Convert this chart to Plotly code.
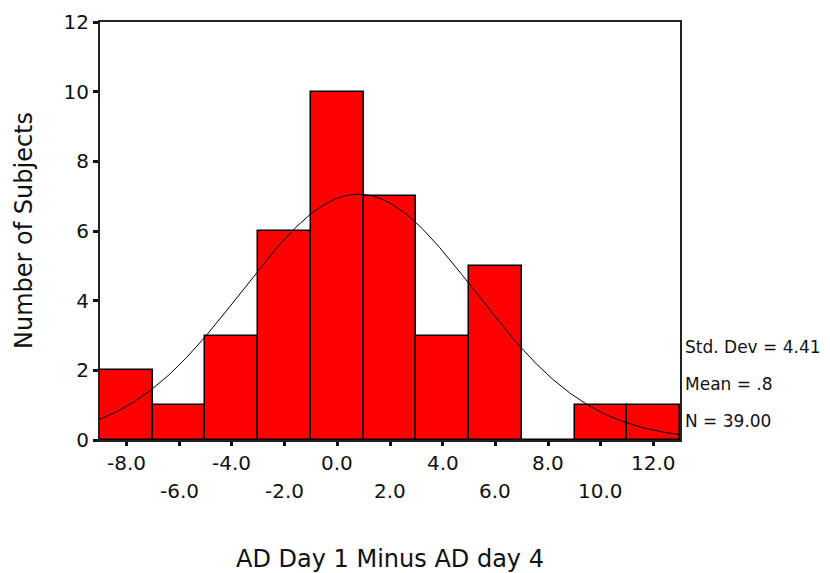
import numpy as np
import plotly.graph_objects as go

bin_centers = [-8, -6, -4, -2, 0, 2, 4, 6, 8, 10, 12]
counts = [2, 1, 3, 6, 10, 7, 3, 5, 0, 1, 1]
bin_width = 2
tick_labels = ["-8.0", "-6.0", "-4.0", "-2.0", "0.0", "2.0", "4.0", "6.0", "8.0", "10.0", "12.0"]
y_ticks = [0, 2, 4, 6, 8, 10, 12]
mean_val = 0.8
sd_val = 4.41
n_val = 39
stats_text = ["Std. Dev = 4.41", "Mean = .8", "N = 39.00"]

FONT = "DejaVu Sans, Liberation Sans, Arial, sans-serif"
TXT = "#111"

fig = go.Figure()
fig.add_trace(go.Bar(
    x=bin_centers, y=counts, width=[bin_width] * len(bin_centers),
    marker=dict(color="#FF0000", line=dict(color="black", width=1.5)),
    hoverinfo="skip", showlegend=False,
))

xmin = bin_centers[0] - bin_width / 2
xmax = bin_centers[-1] + bin_width / 2
xs = np.linspace(xmin, xmax, 300)
ys = n_val * bin_width / (sd_val * np.sqrt(2 * np.pi)) * np.exp(-0.5 * ((xs - mean_val) / sd_val) ** 2)
fig.add_trace(go.Scatter(x=xs, y=ys, mode="lines", line=dict(color="black", width=1),
                         hoverinfo="skip", showlegend=False))

annotations = []
for i, (c, lab) in enumerate(zip(bin_centers, tick_labels)):
    annotations.append(dict(x=c, y=0, xref="x", yref="y", text=lab, showarrow=False,
                            xanchor="center", yanchor="middle",
                            yshift=-23 if i % 2 == 0 else -51,
                            font=dict(family=FONT, size=20, color=TXT)))
for i, t in enumerate(stats_text):
    annotations.append(dict(x=1, y=0, xref="paper", yref="paper", text=t, showarrow=False,
                            xanchor="left", yanchor="middle", xshift=3,
                            yshift=93 - 37 * i,
                            font=dict(family=FONT, size=17, color=TXT)))
annotations.append(dict(x=0.5, y=0, xref="paper", yref="paper", text="AD Day 1 Minus AD day 4",
                        showarrow=False, xanchor="center", yanchor="middle", yshift=-119,
                        font=dict(family=FONT, size=24, color=TXT)))
annotations.append(dict(x=0, y=0.5, xref="paper", yref="paper", text="Number of Subjects",
                        showarrow=False, xanchor="center", yanchor="middle", xshift=-76,
                        textangle=-90,
                        font=dict(family=FONT, size=24, color=TXT)))

fig.update_layout(
    width=822, height=565,
    margin=dict(l=92, r=150, t=14, b=133),
    paper_bgcolor="white", plot_bgcolor="white",
    bargap=0,
    annotations=annotations,
    font=dict(family=FONT, size=18, color=TXT),
    xaxis=dict(range=[xmin, xmax], showgrid=False, zeroline=False, automargin=False,
               showline=True, linecolor="#222", linewidth=2, mirror=True,
               tickmode="array", tickvals=bin_centers, showticklabels=False,
               ticks="outside", ticklen=4, tickwidth=3, tickcolor="#111"),
    yaxis=dict(range=[0, 12], showgrid=False, zeroline=False, automargin=False,
               showline=True, linecolor="#222", linewidth=2, mirror=True,
               tickmode="array", tickvals=y_ticks,
               ticks="outside", ticklen=5, tickwidth=3, tickcolor="#111",
               tickfont=dict(family=FONT, size=20, color=TXT)),
)

fig.write_html("out.html")
